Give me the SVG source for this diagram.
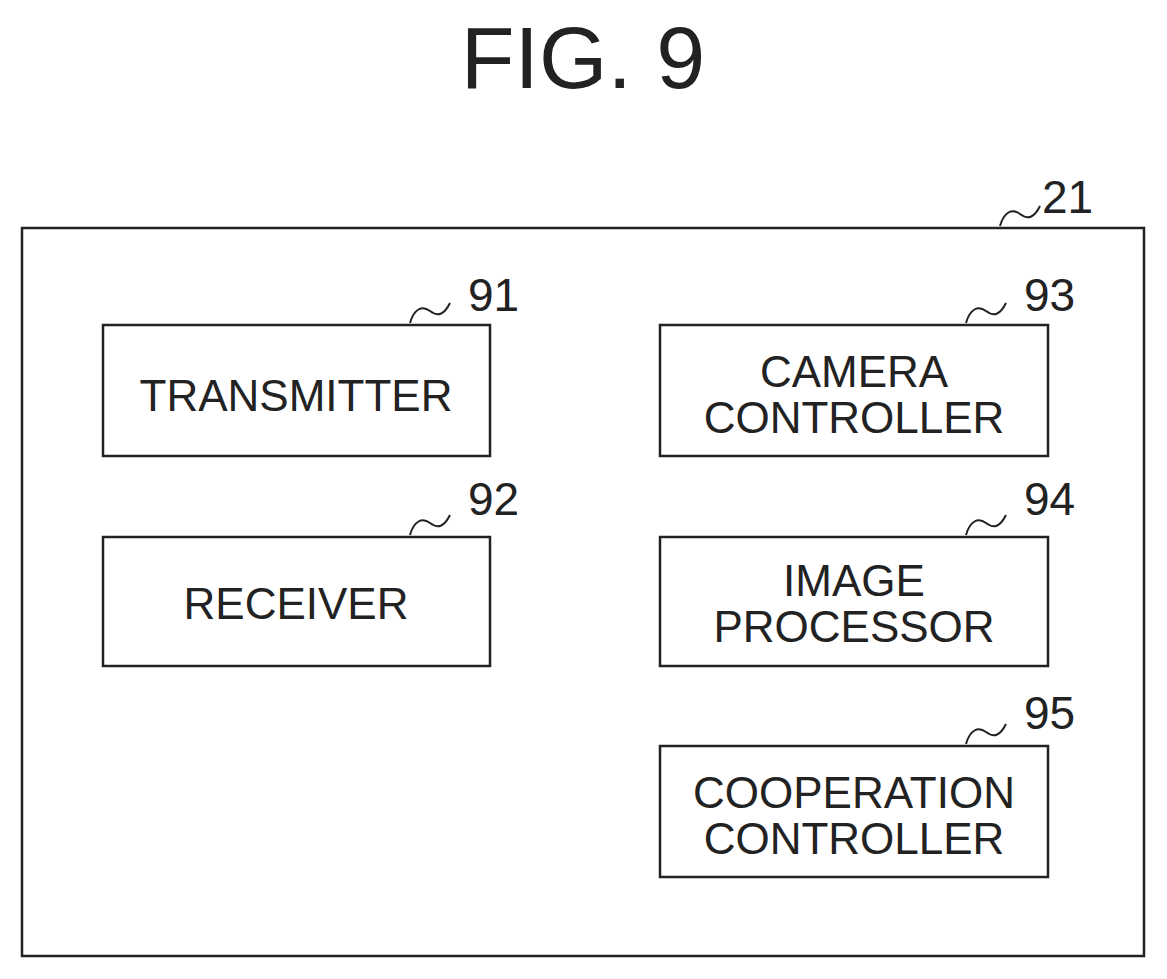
<svg xmlns="http://www.w3.org/2000/svg" width="1167" height="979" viewBox="0 0 1167 979">
<style>
.b{fill:none;stroke:#222;stroke-width:2.5}
.l{fill:none;stroke:#222;stroke-width:2}
text{font-family:"Liberation Sans",Arial,sans-serif;fill:#222}
.t{font-size:44px;text-anchor:middle}
.n{font-size:46px}
</style>
<rect width="1167" height="979" fill="#fff"/>
<text x="583" y="88" font-size="88" text-anchor="middle">FIG. 9</text>
<g id="n21"><rect class="b" x="22" y="228" width="1122" height="728"/>
<path class="l" d="M1000,226 c4,-14 12,-18 20,-12 c8,6 14,4 20,-8"/><text class="n" x="1042" y="213">21</text></g>
<g id="n91"><rect class="b" x="103" y="325" width="387" height="131"/>
<path class="l" d="M410,323 c4,-14 12,-18 20,-12 c8,6 14,4 20,-8"/><text class="n" x="468" y="311">91</text>
<text class="t" x="296" y="411">TRANSMITTER</text></g>
<g id="n92"><rect class="b" x="103" y="537" width="387" height="129"/>
<path class="l" d="M410,535 c4,-14 12,-18 20,-12 c8,6 14,4 20,-8"/><text class="n" x="468" y="515">92</text>
<text class="t" x="296" y="619">RECEIVER</text></g>
<g id="n93"><rect class="b" x="660" y="325" width="388" height="131"/>
<path class="l" d="M966,323 c4,-14 12,-18 20,-12 c8,6 14,4 20,-8"/><text class="n" x="1024" y="311">93</text>
<text class="t" x="854" y="387">CAMERA</text><text class="t" x="854" y="433">CONTROLLER</text></g>
<g id="n94"><rect class="b" x="660" y="537" width="388" height="129"/>
<path class="l" d="M966,535 c4,-14 12,-18 20,-12 c8,6 14,4 20,-8"/><text class="n" x="1024" y="515">94</text>
<text class="t" x="854" y="596">IMAGE</text><text class="t" x="854" y="642">PROCESSOR</text></g>
<g id="n95"><rect class="b" x="660" y="746" width="388" height="131"/>
<path class="l" d="M966,744 c4,-14 12,-18 20,-12 c8,6 14,4 20,-8"/><text class="n" x="1024" y="729">95</text>
<text class="t" x="854" y="808">COOPERATION</text><text class="t" x="854" y="854">CONTROLLER</text></g>
<g id="connectors"/>
</svg>
